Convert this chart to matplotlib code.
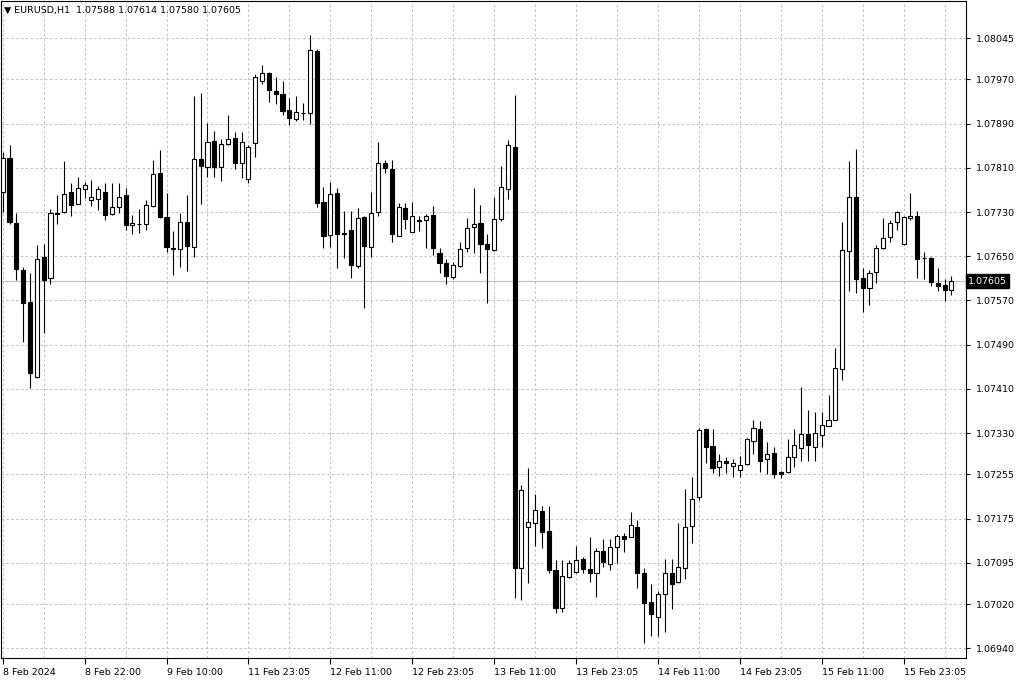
import matplotlib
matplotlib.use('Agg')
import matplotlib.pyplot as plt
import matplotlib.transforms as mtransforms
import numpy as np

# EURUSD H1 candles (oldest first)
opens = [1.07766, 1.07828, 1.07711, 1.07625, 1.07567, 1.07431, 1.07649, 1.07611, 1.07727, 1.07730,
         1.07766, 1.07745, 1.07772, 1.07752, 1.07754, 1.07766, 1.07726, 1.07739, 1.07761, 1.07707,
         1.07708, 1.07708, 1.07741, 1.07801, 1.07721, 1.07665, 1.07663, 1.07712, 1.07667, 1.07826,
         1.07812, 1.07859, 1.07812, 1.07853, 1.07864, 1.07819, 1.07790, 1.07855, 1.07967, 1.07982,
         1.07949, 1.07944, 1.07915, 1.07898, 1.07909, 1.07909, 1.08021, 1.07748, 1.07688, 1.07764,
         1.07692, 1.07697, 1.07632, 1.07721, 1.07667, 1.07730, 1.07819, 1.07808, 1.07687, 1.07737,
         1.07694, 1.07714, 1.07716, 1.07725, 1.07656, 1.07638, 1.07612, 1.07632, 1.07665, 1.07703,
         1.07710, 1.07672, 1.07661, 1.07717, 1.07772, 1.07848, 1.07086, 1.07160, 1.07167, 1.07189,
         1.07153, 1.07082, 1.07013, 1.07069, 1.07078, 1.07102, 1.07084, 1.07077, 1.07116, 1.07093,
         1.07124, 1.07144, 1.07142, 1.07160, 1.07077, 1.07024, 1.06997, 1.07039, 1.07077, 1.07060,
         1.07086, 1.07162, 1.07214, 1.07337, 1.07307, 1.07269, 1.07279, 1.07270, 1.07263, 1.07274,
         1.07316, 1.07337, 1.07283, 1.07294, 1.07259, 1.07259, 1.07287, 1.07303, 1.07328, 1.07305,
         1.07326, 1.07343, 1.07354, 1.07446, 1.07659, 1.07757, 1.07611, 1.07592, 1.07621, 1.07665,
         1.07685, 1.07712, 1.07672, 1.07719, 1.07723, 1.07647, 1.07646, 1.07601, 1.07598, 1.07588]
highs = [1.07839, 1.07851, 1.07728, 1.07631, 1.07620, 1.07670, 1.07672, 1.07735, 1.07761, 1.07822,
         1.07783, 1.07793, 1.07784, 1.07788, 1.07777, 1.07783, 1.07783, 1.07783, 1.07774, 1.07725,
         1.07735, 1.07752, 1.07824, 1.07842, 1.07764, 1.07696, 1.07728, 1.07761, 1.07940, 1.07945,
         1.07891, 1.07877, 1.07862, 1.07906, 1.07875, 1.07875, 1.07851, 1.07980, 1.07996, 1.07984,
         1.07974, 1.07967, 1.07936, 1.07940, 1.07927, 1.08050, 1.08025, 1.07775, 1.07784, 1.07774,
         1.07732, 1.07732, 1.07737, 1.07723, 1.07766, 1.07857, 1.07824, 1.07824, 1.07746, 1.07746,
         1.07748, 1.07723, 1.07726, 1.07741, 1.07665, 1.07645, 1.07640, 1.07676, 1.07719, 1.07774,
         1.07743, 1.07690, 1.07757, 1.07813, 1.07860, 1.07942, 1.07236, 1.07267, 1.07220, 1.07198,
         1.07198, 1.07100, 1.07100, 1.07100, 1.07126, 1.07106, 1.07142, 1.07122, 1.07138, 1.07138,
         1.07147, 1.07149, 1.07187, 1.07173, 1.07086, 1.07057, 1.07044, 1.07102, 1.07102, 1.07167,
         1.07229, 1.07250, 1.07339, 1.07339, 1.07337, 1.07292, 1.07287, 1.07283, 1.07288, 1.07321,
         1.07354, 1.07352, 1.07314, 1.07305, 1.07261, 1.07319, 1.07337, 1.07413, 1.07372, 1.07368,
         1.07368, 1.07399, 1.07484, 1.07712, 1.07822, 1.07844, 1.07629, 1.07625, 1.07670, 1.07719,
         1.07716, 1.07732, 1.07723, 1.07764, 1.07732, 1.07658, 1.07649, 1.07629, 1.07609, 1.07614]
lows = [1.07730, 1.07708, 1.07607, 1.07495, 1.07411, 1.07429, 1.07511, 1.07600, 1.07708, 1.07728,
        1.07723, 1.07744, 1.07755, 1.07741, 1.07734, 1.07716, 1.07724, 1.07728, 1.07697, 1.07690,
        1.07692, 1.07697, 1.07740, 1.07719, 1.07658, 1.07616, 1.07631, 1.07623, 1.07649, 1.07745,
        1.07793, 1.07793, 1.07786, 1.07852, 1.07808, 1.07792, 1.07783, 1.07830, 1.07962, 1.07929,
        1.07926, 1.07906, 1.07888, 1.07895, 1.07897, 1.07889, 1.07739, 1.07665, 1.07667, 1.07629,
        1.07647, 1.07611, 1.07629, 1.07556, 1.07649, 1.07723, 1.07801, 1.07676, 1.07686, 1.07699,
        1.07693, 1.07696, 1.07665, 1.07652, 1.07620, 1.07600, 1.07609, 1.07631, 1.07658, 1.07656,
        1.07620, 1.07565, 1.07660, 1.07714, 1.07754, 1.07031, 1.07028, 1.07059, 1.07126, 1.07122,
        1.07077, 1.07004, 1.07006, 1.07068, 1.07077, 1.07077, 1.07060, 1.07033, 1.07088, 1.07082,
        1.07095, 1.07115, 1.07141, 1.07050, 1.06950, 1.06963, 1.06963, 1.06970, 1.07011, 1.07059,
        1.07066, 1.07131, 1.07209, 1.07276, 1.07258, 1.07252, 1.07258, 1.07250, 1.07250, 1.07273,
        1.07292, 1.07259, 1.07256, 1.07249, 1.07249, 1.07257, 1.07269, 1.07279, 1.07279, 1.07279,
        1.07305, 1.07342, 1.07353, 1.07426, 1.07587, 1.07583, 1.07549, 1.07562, 1.07602, 1.07663,
        1.07676, 1.07697, 1.07671, 1.07716, 1.07611, 1.07609, 1.07596, 1.07587, 1.07569, 1.07580]
closes = [1.07828, 1.07712, 1.07627, 1.07565, 1.07439, 1.07645, 1.07607, 1.07728, 1.07729, 1.07763,
          1.07743, 1.07774, 1.07779, 1.07757, 1.07772, 1.07725, 1.07739, 1.07757, 1.07707, 1.07710,
          1.07709, 1.07743, 1.07799, 1.07721, 1.07667, 1.07663, 1.07712, 1.07669, 1.07826, 1.07813,
          1.07857, 1.07812, 1.07853, 1.07862, 1.07819, 1.07857, 1.07848, 1.07974, 1.07982, 1.07951,
          1.07944, 1.07913, 1.07900, 1.07911, 1.07910, 1.08023, 1.07746, 1.07687, 1.07763, 1.07690,
          1.07691, 1.07634, 1.07719, 1.07669, 1.07728, 1.07819, 1.07810, 1.07690, 1.07739, 1.07717,
          1.07723, 1.07715, 1.07723, 1.07665, 1.07638, 1.07614, 1.07634, 1.07663, 1.07701, 1.07708,
          1.07672, 1.07663, 1.07717, 1.07775, 1.07851, 1.07086, 1.07227, 1.07169, 1.07191, 1.07151,
          1.07082, 1.07013, 1.07071, 1.07095, 1.07100, 1.07084, 1.07077, 1.07116, 1.07097, 1.07124,
          1.07144, 1.07138, 1.07164, 1.07077, 1.07022, 1.07002, 1.07039, 1.07077, 1.07057, 1.07088,
          1.07160, 1.07211, 1.07335, 1.07305, 1.07267, 1.07279, 1.07276, 1.07276, 1.07272, 1.07319,
          1.07339, 1.07279, 1.07292, 1.07256, 1.07255, 1.07287, 1.07308, 1.07328, 1.07308, 1.07330,
          1.07345, 1.07354, 1.07448, 1.07661, 1.07757, 1.07609, 1.07592, 1.07620, 1.07665, 1.07683,
          1.07710, 1.07730, 1.07721, 1.07723, 1.07645, 1.07646, 1.07603, 1.07596, 1.07588, 1.07605]

time_labels = ['8 Feb 2024', '8 Feb 22:00', '9 Feb 10:00', '11 Feb 23:05', '12 Feb 11:00',
               '12 Feb 23:05', '13 Feb 11:00', '13 Feb 23:05', '14 Feb 11:00', '14 Feb 23:05',
               '15 Feb 11:00', '15 Feb 23:05']
label_step = 12
price_ticks = [1.08045, 1.07970, 1.07890, 1.07810, 1.07730, 1.07650, 1.07570, 1.07490,
               1.07410, 1.07330, 1.07255, 1.07175, 1.07095, 1.07020, 1.06940]
symbol = 'EURUSD,H1'

o = np.array(opens)
h = np.array(highs)
l = np.array(lows)
c = np.array(closes)
x = np.arange(len(o))
up = c >= o

W, H = 1024, 683
fig = plt.figure(figsize=(W / 100, H / 100), dpi=100, facecolor='white')
ax = fig.add_axes([1 / W, 25 / H, 965 / W, 657 / H])

grid_kw = dict(color='#c0c0c0', linewidth=0.7, linestyle=(0, (2.5, 2.5)), zorder=0)
for gx in range(0, len(o) + 6, 6):
    ax.axvline(gx, **grid_kw)
for gy in price_ticks:
    ax.axhline(gy, **grid_kw)

# current price line
last = closes[-1]
ax.axhline(last, color='#c0c0c0', linewidth=0.8, zorder=1)

# wicks
ax.vlines(x, l, h, color='black', linewidth=0.8, zorder=2)

# bodies: bull hollow, bear filled
body_w = 0.6
bottoms = np.minimum(o, c)
heights = np.abs(c - o)
ax.bar(x[up], heights[up], body_w, bottom=bottoms[up], facecolor='white',
       edgecolor='black', linewidth=0.8, zorder=3)
ax.bar(x[~up], heights[~up], body_w, bottom=bottoms[~up], facecolor='black',
       edgecolor='black', linewidth=0.8, zorder=3)

ax.set_xlim(-0.25, 141.14)
ax.set_ylim(1.069228, 1.081120)

# price axis on the right
ax.yaxis.tick_right()
ax.set_yticks(price_ticks)
ax.set_yticklabels([f'{p:.5f}' for p in price_ticks])
ax.tick_params(axis='y', direction='out', length=3, width=0.8, pad=4,
               labelsize=6.8, colors='black')

# time axis
xt = [i * label_step for i in range(len(time_labels))]
ax.set_xticks(xt)
ax.set_xticklabels(time_labels)
ax.tick_params(axis='x', direction='out', length=4, width=0.8, pad=3,
               labelsize=6.8, colors='black')
for t in ax.get_xticklabels():
    t.set_ha('left')

for s in ax.spines.values():
    s.set_color('black')
    s.set_linewidth(0.8)

# last price box on the scale
trans = mtransforms.blended_transform_factory(ax.transAxes, ax.transData)
ax.text(1.002, last, f'{last:.5f}', transform=trans, ha='left', va='center',
        fontsize=6.8, color='white', clip_on=False, zorder=10,
        bbox=dict(boxstyle='square,pad=0.25', facecolor='black', edgecolor='black'))

# header
header = f'\u25bc {symbol}  {opens[-1]:.5f} {highs[-1]:.5f} {lows[-1]:.5f} {closes[-1]:.5f}'
fig.text(4 / W, 1 - 10 / H, header, fontsize=6.8, va='center', ha='left', color='black')

fig.savefig('out.png', dpi=100, facecolor='white')
